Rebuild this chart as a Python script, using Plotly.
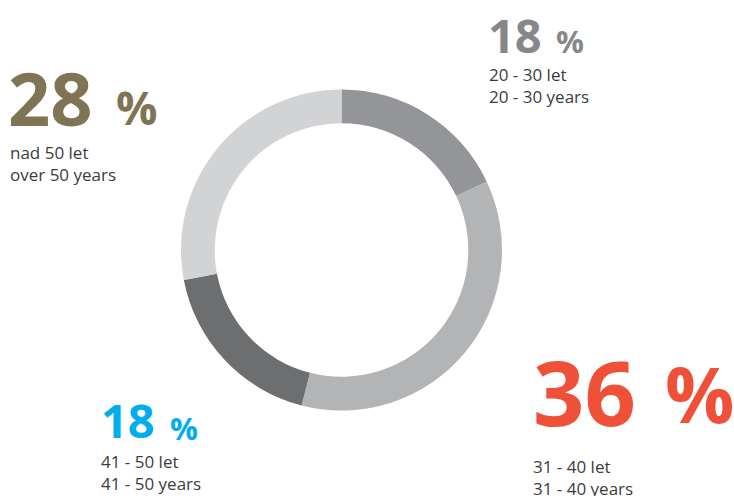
import plotly.graph_objects as go

W, H = 734, 496

# Data
categories = ["20 - 30 let", "31 - 40 let", "41 - 50 let", "nad 50 let"]
categories_en = ["20 - 30 years", "31 - 40 years", "41 - 50 years", "over 50 years"]
values = [18, 36, 18, 28]
slice_colors = ["#939598", "#b3b4b6", "#6d6e70", "#d1d3d4"]
label_colors = ["#87878a", "#ef5038", "#00aeef", "#7f7453"]

# Label layout in pixels: number left x / mid y / size, percent left x / mid y / size, body left x / mid y
label_pos = [
    dict(nx=486, ny=35, ns=47, qx=554, qy=41, qs=31, bx=487, by=86),
    dict(nx=531, ny=391, ns=90, qx=663, qy=393, qs=77, bx=531, by=477),
    dict(nx=99, ny=420, ns=47, qx=168, qy=428, qs=31, bx=99, by=472),
    dict(nx=6, ny=97, ns=74, qx=114, qy=107, qs=46, bx=8, by=163),
]

def px(x):
    return x / W

def py(y):
    return 1 - y / H

cx, cy, r = 341.5, 250, 160.5

fig = go.Figure(go.Pie(
    labels=categories,
    values=values,
    sort=False,
    direction="clockwise",
    rotation=0,
    hole=0.79,
    marker=dict(colors=slice_colors, line=dict(width=0)),
    textinfo="none",
    hoverinfo="label+percent",
    showlegend=False,
    domain=dict(x=[px(cx - r), px(cx + r)], y=[py(cy + r), py(cy - r)]),
))

annotations = []
for i, v in enumerate(values):
    p = label_pos[i]
    annotations.append(dict(
        text="<b>%d</b>" % v, xref="paper", yref="paper",
        x=px(p["nx"]), y=py(p["ny"]), xanchor="left", yanchor="middle",
        showarrow=False, align="left",
        font=dict(family="Open Sans", size=p["ns"], color=label_colors[i]),
    ))
    annotations.append(dict(
        text="<b>%</b>", xref="paper", yref="paper",
        x=px(p["qx"]), y=py(p["qy"]), xanchor="left", yanchor="middle",
        showarrow=False, align="left",
        font=dict(family="Open Sans", size=p["qs"], color=label_colors[i]),
    ))
    annotations.append(dict(
        text=categories[i] + "<br>" + categories_en[i], xref="paper", yref="paper",
        x=px(p["bx"]), y=py(p["by"]), xanchor="left", yanchor="middle",
        showarrow=False, align="left",
        font=dict(family="Open Sans", size=17, color="#3c3c3c"),
    ))

fig.update_layout(
    width=W, height=H,
    margin=dict(l=0, r=0, t=0, b=0),
    paper_bgcolor="white", plot_bgcolor="white",
    annotations=annotations,
)

fig.write_html("out.html", config={"displayModeBar": False},
               post_script="document.body.style.margin='0';")
